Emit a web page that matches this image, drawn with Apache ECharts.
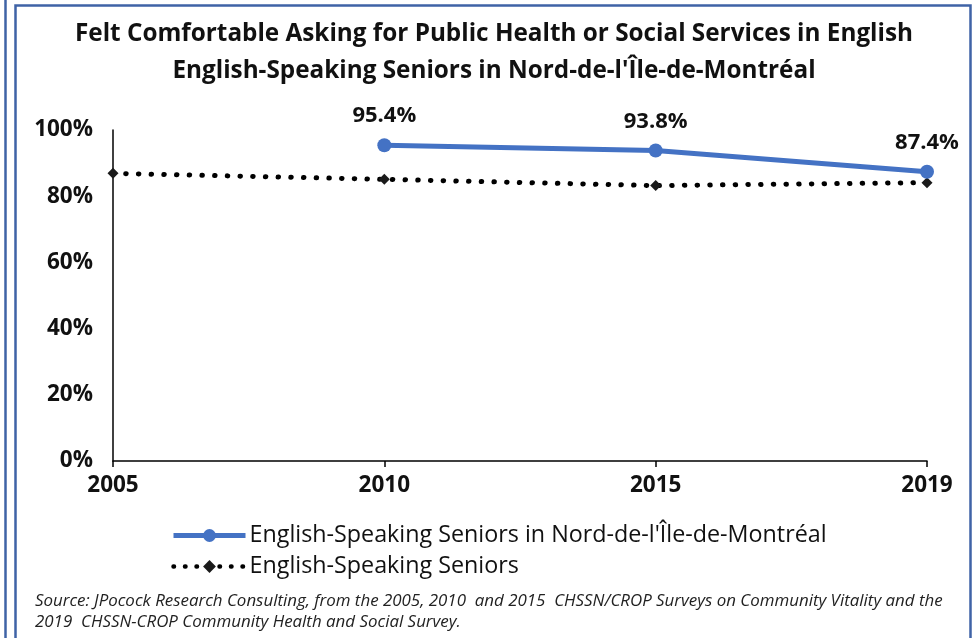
<!DOCTYPE html>
<html>
<head>
<meta charset="utf-8">
<script src="https://cdn.jsdelivr.net/npm/echarts@6/dist/echarts.min.js"></script>
<style>
html,body{margin:0;padding:0;background:#fff;}
#c{width:977px;height:638px;}
</style>
</head>
<body>
<div id="c"></div>
<script>
const categories = ['2005', '2010', '2015', '2019'];
const regionValues = [null, 95.4, 93.8, 87.4];
const seniorsValues = [86.9, 85.1, 83.2, 84.1];
const yTicks = [0, 20, 40, 60, 80, 100];
const seriesNames = ["English-Speaking Seniors in Nord-de-l'Île-de-Montréal", 'English-Speaking Seniors'];
const titleLines = ['Felt Comfortable Asking for Public Health or Social Services in English', "English-Speaking Seniors in Nord-de-l'Île-de-Montréal"];
const sourceLines = ['Source: JPocock Research Consulting, from the 2005, 2010  and 2015  CHSSN/CROP Surveys on Community Vitality and the', '2019  CHSSN-CROP Community Health and Social Survey.'];

const FONT = 'Open Sans';
const chart = echarts.init(document.getElementById('c'), null, {renderer: 'canvas'});
chart.setOption({
  backgroundColor: '#fff',
  animation: false,
  title: {
    text: titleLines.join('\n'),
    left: 489, top: 11, textAlign: 'center',
    textStyle: {fontFamily: FONT, fontWeight: 'bold', fontSize: 24.3, color: '#111', lineHeight: 37}
  },
  graphic: [
    {type: 'rect', shape: {x: 15.5, y: 5.5, width: 955, height: 640}, style: {fill: 'none', stroke: '#3f63a6', lineWidth: 2.5}},
    {type: 'line', shape: {x1: 5.5, y1: 0, x2: 5.5, y2: 638}, style: {stroke: '#3f63a6', lineWidth: 2.5}},
    {type: 'text', left: 35, top: 591, style: {text: sourceLines.join('\n'), font: 'italic 16.9px ' + FONT, fill: '#222', lineHeight: 21}}
  ],
  legend: {
    orient: 'vertical', left: 166, top: 519, itemGap: 8,
    itemWidth: 72, itemHeight: 16,
    textStyle: {fontFamily: FONT, fontSize: 23.3, color: '#111', padding: [0, 0, 0, -1]},
    data: [
      {name: seriesNames[0], lineStyle: {width: 5}},
      {name: seriesNames[1], lineStyle: {width: 4.5, type: [0.5, 11], cap: 'round'}}
    ]
  },
  grid: {left: 113, right: 50, top: 130, bottom: 177, containLabel: false},
  xAxis: {
    type: 'category', data: categories, boundaryGap: false,
    axisLine: {lineStyle: {color: '#000', width: 1.5}},
    axisTick: {show: true, length: 6, lineStyle: {color: '#000', width: 1.5}},
    axisLabel: {fontFamily: FONT, fontWeight: 'bold', fontSize: 22.5, color: '#111', margin: 13}
  },
  yAxis: {
    type: 'value', min: 0, max: 100, interval: 20,
    axisLine: {show: true, lineStyle: {color: '#000', width: 1.5}},
    axisTick: {show: false},
    splitLine: {show: false},
    axisLabel: {fontFamily: FONT, fontWeight: 'bold', fontSize: 22.5, color: '#111', margin: 20,
      formatter: v => yTicks.includes(v) ? v + '%' : ''}
  },
  series: [
    {
      name: seriesNames[1], type: 'line', data: seniorsValues, z: 2,
      symbol: 'diamond', symbolSize: 11, showSymbol: true,
      itemStyle: {color: '#1a1a1a'},
      lineStyle: {color: '#000', width: 5, type: [0.5, 12.2], cap: 'round'}
    },
    {
      name: seriesNames[0], type: 'line', data: regionValues, z: 3,
      symbol: 'circle', symbolSize: 14, showSymbol: true,
      itemStyle: {color: '#4472c4'},
      lineStyle: {color: '#4472c4', width: 5},
      label: {show: true, position: 'top', distance: 11, formatter: p => p.value.toFixed(1) + '%',
        fontFamily: FONT, fontWeight: 'bold', fontSize: 22, color: '#111'}
    }
  ]
});
</script>
</body>
</html>
